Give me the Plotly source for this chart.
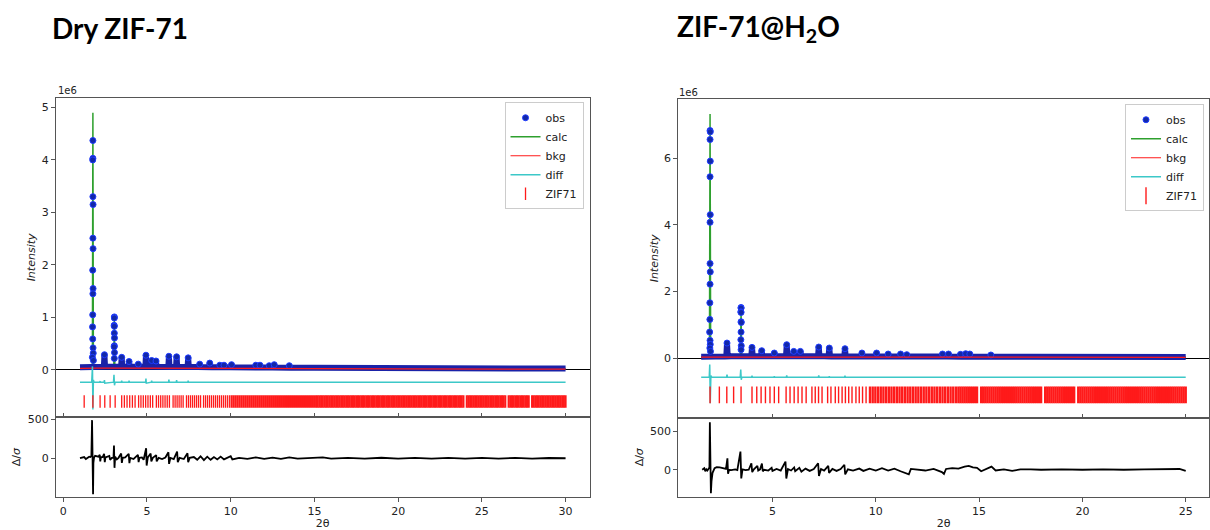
import numpy as np
import plotly.graph_objects as go

# ======================= Dry ZIF-71 (left) ; intensities in units of 1e6 =======================
L_BASE_X = [1.0, 1.5, 2.0, 3.0, 5.0, 7.5, 10.0, 12.5, 15.0, 20.0, 25.0, 30.0]
L_BASE_OBS = [0.05, 0.055, 0.06, 0.06, 0.06, 0.055, 0.05, 0.045, 0.04, 0.035, 0.03, 0.025]
L_BKG = [0.03, 0.035, 0.035, 0.035, 0.035, 0.03, 0.03, 0.025, 0.025, 0.02, 0.02, 0.015]
L_PEAK_X = [2.46, 3.49, 3.93, 4.48, 4.94, 5.28, 5.54, 6.31, 6.77, 7.46, 8.15, 8.75, 9.35, 9.60,
            10.05, 11.50, 11.75, 12.30, 12.60, 13.50]
L_PEAK_OBS = [0.29, 0.24, 0.16, 0.11, 0.28, 0.18, 0.17, 0.26, 0.25, 0.23, 0.11, 0.13, 0.09, 0.09,
              0.10, 0.09, 0.09, 0.08, 0.10, 0.08]
L_PEAK_CALC = [0.27, 0.22, 0.15, 0.10, 0.25, 0.17, 0.16, 0.24, 0.23, 0.21, 0.10, 0.12, 0.09, 0.08,
               0.09, 0.08, 0.08, 0.08, 0.09, 0.07]
L_BIG_X = [1.77, 3.05]
L_BIG_CALC = [4.90, 0.98]
L_DOT_X = [1.77, 1.77, 1.76, 1.77, 1.78, 1.77, 1.78, 1.76, 1.78, 1.77, 1.76, 1.75, 1.76, 1.78, 1.79, 1.74, 1.80,
           3.05, 3.05, 3.04, 3.05, 3.05, 3.06, 3.05, 3.04, 3.06, 3.05]
L_DOT_Y = [4.37, 4.03, 4.00, 3.30, 3.15, 2.51, 2.31, 1.90, 1.55, 1.45, 1.05, 0.82, 0.59, 0.42, 0.32, 0.24, 0.18,
           1.01, 0.99, 0.85, 0.83, 0.70, 0.61, 0.46, 0.44, 0.33, 0.22]
L_DIFF_OFFSET = -0.233
L_DIFF_X = [1.00, 1.70, 1.745, 1.77, 1.80, 1.84, 2.18, 2.20, 2.22, 2.44, 2.46, 2.48, 3.00, 3.03, 3.06, 3.10,
            3.47, 3.49, 3.51, 3.91, 3.93, 3.95, 4.92, 4.94, 4.96, 5.26, 5.28, 5.30, 6.29, 6.31, 6.33,
            6.75, 6.77, 6.79, 7.44, 7.46, 7.48, 30.0]
L_DIFF_Y = [0, 0, 0.30, -0.52, 0.04, 0, 0, 0.02, 0, 0, 0.04, -0.02, 0, 0.14, -0.06, 0,
            0, 0.03, 0, 0, 0.03, 0, 0, 0.07, -0.02, 0, 0.03, 0, 0, 0.05, 0,
            0, 0.04, 0, 0, 0.03, 0, 0]
L_TICK_Y = -0.60
# resolved reflection ticks
L_TICKS_A = [1.25, 1.77, 2.20, 2.48, 2.80, 3.10,
             3.49, 3.65, 3.81, 3.97, 4.13, 4.29,
             4.50, 4.64, 4.78, 4.92, 5.06, 5.20, 5.34,
             5.56, 5.69, 5.82, 5.95, 6.08, 6.21, 6.34,
             6.56, 6.68, 6.80, 6.92, 7.04, 7.16,
             7.36, 7.48, 7.60, 7.72, 7.84, 7.96, 8.08, 8.20,
             8.38, 8.50, 8.62, 8.74, 8.86, 8.98, 9.10, 9.22, 9.34, 9.46, 9.58, 9.70, 9.82, 9.94]
# crowded reflection ticks (merge into a band)
L_TICKS_B = [10.06, 10.18, 10.30, 10.42, 10.54, 10.66, 10.78, 10.90, 11.02, 11.14, 11.26, 11.38,
             11.50, 11.62, 11.74, 11.86, 11.98, 12.10, 12.22, 12.34, 12.46, 12.58, 12.70, 12.82,
             12.94, 13.06, 13.18, 13.30, 13.42, 13.54, 13.66, 13.78, 13.90, 14.02, 14.14, 14.26,
             14.38, 14.50, 14.62, 14.74, 14.86, 14.98,
             15.1, 15.2, 15.3, 15.4, 15.5, 15.6, 15.7, 15.8, 15.9, 16.0,
             16.1, 16.2, 16.3, 16.4, 16.5, 16.6, 16.7, 16.8, 16.9, 17.0,
             17.1, 17.2, 17.3, 17.4, 17.5, 17.6, 17.7, 17.8, 17.9, 18.0,
             18.1, 18.2, 18.3, 18.4, 18.5, 18.6, 18.7, 18.8, 18.9, 19.0,
             19.1, 19.2, 19.3, 19.4, 19.5, 19.6, 19.7, 19.8, 19.9, 20.0,
             20.1, 20.2, 20.3, 20.4, 20.5, 20.6, 20.7, 20.8, 20.9, 21.0,
             21.1, 21.2, 21.3, 21.4, 21.5, 21.6, 21.7, 21.8, 21.9, 22.0,
             22.1, 22.2, 22.3, 22.4, 22.5, 22.6, 22.7, 22.8, 22.9, 23.0,
             23.1, 23.2, 23.3, 23.4, 23.5, 23.6, 23.7, 23.8, 23.9,
             24.1, 24.2, 24.3, 24.4, 24.5, 24.6, 24.7, 24.8, 24.9, 25.0,
             25.1, 25.2, 25.3, 25.4, 25.5, 25.6, 25.7, 25.8, 25.9, 26.0,
             26.1, 26.2, 26.3, 26.4, 26.6, 26.7, 26.8, 26.9, 27.0,
             27.1, 27.2, 27.3, 27.4, 27.5, 27.6, 27.7, 27.8, 28.0,
             28.1, 28.2, 28.3, 28.4, 28.5, 28.6, 28.7, 28.8, 28.9, 29.0,
             29.1, 29.2, 29.3, 29.4, 29.5, 29.6, 29.7, 29.8, 29.9, 30.0]
L_DS_X = [1.00, 1.10, 1.25, 1.35, 1.45, 1.55, 1.62, 1.68, 1.72, 1.74, 1.76, 1.78, 1.80, 1.84, 1.90, 2.00,
          2.10, 2.18, 2.21, 2.25, 2.35, 2.44, 2.48, 2.52, 2.65, 2.75, 2.80, 2.90, 3.00, 3.03, 3.06, 3.10,
          3.20, 3.30, 3.46, 3.50, 3.55, 3.70, 3.91, 3.95, 4.00, 4.20, 4.46, 4.50, 4.55, 4.70, 4.80, 4.95,
          4.98, 5.05, 5.22, 5.26, 5.35, 5.55, 5.58, 5.70, 5.90, 6.10, 6.28, 6.32, 6.40, 6.60, 6.80, 6.84,
          6.95, 7.20, 7.42, 7.46, 7.55, 7.80, 8.00, 8.20, 8.40, 8.60, 8.80, 9.00, 9.20, 9.40, 9.60, 9.80,
          10.00, 10.10, 10.50, 11.00, 11.50, 12.00, 12.50, 13.00, 13.50, 14.00, 15.00, 15.50, 16.00,
          17.00, 18.00, 19.00, 20.00, 21.00, 22.00, 23.00, 24.00, 25.00, 26.00, 27.00, 28.00, 29.00, 30.00]
L_DS_Y = [0, 5, 15, -10, 10, 20, 15, 30, 487, -50, 190, -462, -60, 10, 30, 25,
          20, 45, -40, 15, 15, 55, -50, 10, 20, 30, -20, 5, 5, 161, -123, 20,
          -15, 5, 60, -60, 5, 10, 55, -63, 5, -10, 42, -50, 5, 10, -20, 127,
          -93, 10, 60, -40, 5, 40, -40, 5, -10, 10, 76, -72, 5, -10, 85, -50,
          5, -10, 63, -50, 5, 15, -20, 25, -25, 20, -20, 15, -15, 20, -15, 10,
          25, -15, 5, -8, 10, -8, 8, -8, 10, -6, 5, 10, -6,
          5, -5, 6, -5, 5, -5, 5, -5, 4, -4, 4, -4, 3, 0]

# ======================= ZIF-71@H2O (right) ; intensities in units of 1e6 =======================
R_BASE_X = [1.55, 2.0, 3.0, 5.0, 7.5, 10.0, 12.5, 15.0, 17.5, 20.0, 25.0]
R_BASE_OBS = [0.04, 0.045, 0.05, 0.05, 0.05, 0.045, 0.045, 0.04, 0.035, 0.03, 0.03]
R_BKG = [0.025, 0.03, 0.03, 0.03, 0.03, 0.03, 0.03, 0.025, 0.02, 0.02, 0.02]
R_PEAK_X = [2.80, 4.01, 4.48, 5.09, 5.69, 6.03, 6.35, 7.24, 7.75, 8.51, 9.33, 10.04, 10.60, 11.20,
            11.50, 13.23, 13.52, 14.10, 14.35, 14.55, 15.57]
R_PEAK_OBS = [0.45, 0.32, 0.22, 0.15, 0.40, 0.20, 0.20, 0.33, 0.30, 0.28, 0.15, 0.15, 0.12, 0.12,
              0.10, 0.12, 0.12, 0.11, 0.13, 0.12, 0.09]
R_PEAK_CALC = [0.42, 0.30, 0.20, 0.14, 0.37, 0.19, 0.19, 0.30, 0.28, 0.26, 0.14, 0.14, 0.11, 0.11,
               0.09, 0.11, 0.11, 0.10, 0.11, 0.11, 0.08]
R_BIG_X = [1.98, 3.48]
R_BIG_CALC = [7.34, 1.45]
R_DOT_X = [1.98, 1.99, 1.98, 1.99, 1.98, 1.99, 1.98, 1.98, 1.99, 1.98, 1.97, 1.97, 1.96, 1.98, 1.99, 1.97, 2.00,
           3.48, 3.48, 3.47, 3.48, 3.48, 3.49, 3.48, 3.47, 3.49, 3.48]
R_DOT_Y = [6.84, 6.80, 6.57, 5.92, 5.45, 4.31, 4.08, 2.84, 2.59, 2.22, 1.66, 1.16, 0.78, 0.53, 0.41, 0.30, 0.20,
           1.52, 1.50, 1.39, 1.37, 1.09, 1.07, 0.78, 0.55, 0.37, 0.25]
R_DIFF_OFFSET = -0.576
R_DIFF_X = [1.55, 1.94, 1.965, 1.99, 2.02, 2.06, 2.78, 2.80, 2.82, 3.44, 3.465, 3.49, 3.52, 3.99, 4.01, 4.03,
            5.07, 5.09, 5.11, 5.67, 5.69, 5.71, 7.22, 7.24, 7.26, 7.73, 7.75, 7.77, 8.49, 8.51, 8.53, 25.0]
R_DIFF_Y = [0, 0, 0.38, -0.78, 0.05, 0, 0, 0.08, 0, 0, 0.23, -0.08, 0, 0, 0.04, 0,
            0, 0.03, 0, 0, 0.05, 0, 0, 0.05, 0, 0, 0.03, 0, 0, 0.04, 0, 0]
R_TICK_Y = -1.11
R_TICKS_A = [1.98, 2.43, 2.79, 3.12, 3.48,
             4.01, 4.24, 4.45, 4.66, 4.88, 5.09, 5.30,
             5.66, 5.85, 6.05, 6.24, 6.43, 6.63,
             6.91, 7.07, 7.23, 7.40,
             7.67, 7.83,
             8.04, 8.20, 8.37, 8.53, 8.69, 8.85,
             9.04, 9.20, 9.36, 9.53]
R_TICKS_B = [9.72, 9.85, 9.98, 10.11, 10.24, 10.37, 10.50, 10.63, 10.76, 10.89, 11.02, 11.15,
             11.28, 11.41, 11.54, 11.67, 11.80, 11.93, 12.06, 12.19, 12.32, 12.45, 12.58, 12.71,
             12.84, 12.97, 13.10, 13.23, 13.36, 13.49, 13.62, 13.75, 13.88,
             14.0, 14.1, 14.2, 14.3, 14.4, 14.5, 14.6, 14.7, 14.8, 14.9,
             15.1, 15.2, 15.3, 15.4, 15.5, 15.6, 15.7, 15.8, 15.9, 16.0,
             16.1, 16.2, 16.3, 16.4, 16.5, 16.6, 16.7, 16.8, 16.9, 17.0,
             17.1, 17.2, 17.3, 17.4, 17.5, 17.6, 17.7, 17.8, 17.9, 18.0,
             18.2, 18.3, 18.4, 18.5, 18.6, 18.7, 18.8, 18.9, 19.0,
             19.1, 19.2, 19.3, 19.4, 19.5, 19.6, 19.8, 19.9, 20.0,
             20.1, 20.2, 20.3, 20.4, 20.5, 20.6, 20.7, 20.8, 20.9, 21.0,
             21.1, 21.2, 21.3, 21.4, 21.5, 21.6, 21.7, 21.8, 21.9, 22.0,
             22.1, 22.2, 22.3, 22.4, 22.5, 22.6, 22.7, 22.8, 22.9, 23.0,
             23.1, 23.2, 23.3, 23.4, 23.5, 23.6, 23.7, 23.8, 23.9, 24.0,
             24.1, 24.2, 24.3, 24.4, 24.5, 24.6, 24.7, 24.8, 24.9, 25.0]
R_DS_X = [1.60, 1.65, 1.70, 1.75, 1.80, 1.85, 1.90, 1.95, 1.97, 1.99, 2.00, 2.02, 2.05, 2.10, 2.20, 2.30,
          2.45, 2.60, 2.75, 2.82, 2.85, 2.90, 3.00, 3.20, 3.30, 3.45, 3.49, 3.55, 3.70, 3.85, 3.98, 4.02,
          4.10, 4.27, 4.31, 4.40, 4.49, 4.53, 4.60, 4.80, 4.96, 5.00, 5.20, 5.40, 5.63, 5.67, 5.75, 5.90,
          6.05, 6.10, 6.30, 6.40, 6.60, 6.80, 7.00, 7.21, 7.25, 7.35, 7.50, 7.70, 7.74, 7.90, 8.10, 8.30,
          8.48, 8.52, 8.65, 8.90, 9.20, 9.40, 9.70, 10.00, 10.30, 10.60, 10.90, 11.20, 11.60, 11.70,
          12.00, 12.40, 12.80, 13.20, 13.30, 13.40, 13.70, 14.00, 14.30, 14.50, 14.70, 14.90, 15.10,
          15.40, 15.60, 15.80, 16.20, 16.60, 17.00, 17.50, 18.00, 19.00, 20.00, 21.00, 22.00, 23.00,
          24.00, 24.70, 25.00]
R_DS_Y = [0, 10, 20, -20, 5, -10, 10, 30, 619, -50, 330, -305, -150, -40, 20, 34,
          30, 20, 10, 148, -51, 0, -5, 5, -5, 237, -114, 5, -5, 0, 85, -30,
          5, 50, -10, 5, 80, -20, 0, -10, 25, -15, 10, -10, 106, -114, 10, -10,
          30, -20, 25, -25, 15, -15, 10, 85, -80, 10, -10, 50, -40, 10, -15, 10,
          65, -60, 5, -10, 15, -15, 15, -10, 20, -10, 15, -20, -60, 10,
          5, -10, 10, -30, -55, 10, 20, 15, 40, 50, 30, 25, -20,
          10, 40, -10, 5, -15, 5, 5, 0, 5, 0, 5, 0, 5,
          5, 10, -15]

# ======================= styling =======================
BLUE_BAND = "#1a22a8"
OBS_FILL = "#1228a8"
OBS_EDGE = "#1f3cff"
GREEN = "#2ea02e"
RED = "#ff1a1a"
CYAN = "#3cc8c8"
FRAME = "#555555"
TXT = "#222222"
FONT = "DejaVu Sans"
W, H = 1210, 530


def profile(bx, by, px, py, hw):
    pts = list(zip(bx, by))
    for x, y in zip(px, py):
        b = float(np.interp(x, bx, by))
        pts += [(x - hw, b), (x, y), (x + hw, b)]
    pts.sort(key=lambda p: p[0])
    return [p[0] for p in pts], [p[1] for p in pts]


fig = go.Figure()


def add_panel(xa, ya, xd, yd, legend, base_x, base_obs, bkg, pk_x, pk_obs, pk_calc, big_x, big_calc,
              dot_x, dot_y, diff_x, diff_y, diff_off, ticks_a, ticks_b, tick_y, tick_size, wa, wb,
              ds_x, ds_y):
    ox, oy = profile(base_x, base_obs, pk_x, pk_obs, 0.035)
    cx, cy = profile(base_x, base_obs, list(pk_x) + list(big_x), list(pk_calc) + list(big_calc), 0.03)
    # draw order: calc underneath the observed band; legend order fixed by legendrank
    fig.add_trace(go.Scatter(x=cx, y=cy, mode="lines", name="calc", line=dict(color=GREEN, width=1.5),
                             legend=legend, legendrank=2, xaxis=xa, yaxis=ya))
    fig.add_trace(go.Scatter(x=ox, y=oy, mode="lines", line=dict(color=BLUE_BAND, width=6),
                             showlegend=False, hoverinfo="skip", xaxis=xa, yaxis=ya))
    fig.add_trace(go.Scatter(x=list(pk_x) + list(dot_x), y=list(pk_obs) + list(dot_y), mode="markers",
                             name="obs",
                             marker=dict(size=6, color=OBS_FILL, line=dict(color=OBS_EDGE, width=1)),
                             legend=legend, legendrank=1, xaxis=xa, yaxis=ya))
    fig.add_trace(go.Scatter(x=base_x, y=bkg, mode="lines", name="bkg", line=dict(color=RED, width=1.2),
                             legend=legend, legendrank=3, xaxis=xa, yaxis=ya))
    fig.add_trace(go.Scatter(x=diff_x, y=[diff_off + v for v in diff_y], mode="lines", name="diff",
                             line=dict(color=CYAN, width=1.5), legend=legend, legendrank=4,
                             xaxis=xa, yaxis=ya))
    fig.add_trace(go.Scatter(x=ticks_a, y=[tick_y] * len(ticks_a), mode="markers", name="ZIF71",
                             marker=dict(symbol="line-ns", size=tick_size, line=dict(color=RED, width=wa)),
                             legend=legend, legendrank=5, xaxis=xa, yaxis=ya))
    fig.add_trace(go.Scatter(x=ticks_b, y=[tick_y] * len(ticks_b), mode="markers", name="ZIF71",
                             marker=dict(symbol="line-ns", size=tick_size, line=dict(color=RED, width=wb)),
                             showlegend=False, hoverinfo="skip", xaxis=xa, yaxis=ya))
    fig.add_trace(go.Scatter(x=ds_x, y=ds_y, mode="lines", line=dict(color="black", width=1.8),
                             showlegend=False, hoverinfo="skip", xaxis=xd, yaxis=yd))


add_panel("x", "y", "x2", "y2", "legend", L_BASE_X, L_BASE_OBS, L_BKG, L_PEAK_X, L_PEAK_OBS, L_PEAK_CALC,
          L_BIG_X, L_BIG_CALC, L_DOT_X, L_DOT_Y, L_DIFF_X, L_DIFF_Y, L_DIFF_OFFSET, L_TICKS_A, L_TICKS_B,
          L_TICK_Y, 9, 1.3, 2.1, L_DS_X, L_DS_Y)
add_panel("x3", "y3", "x4", "y4", "legend2", R_BASE_X, R_BASE_OBS, R_BKG, R_PEAK_X, R_PEAK_OBS, R_PEAK_CALC,
          R_BIG_X, R_BIG_CALC, R_DOT_X, R_DOT_Y, R_DIFF_X, R_DIFF_Y, R_DIFF_OFFSET, R_TICKS_A, R_TICKS_B,
          R_TICK_Y, 12, 1.4, 2.4, R_DS_X, R_DS_Y)

tickfont = dict(family=FONT, size=11, color=TXT)
common = dict(showline=True, linecolor=FRAME, linewidth=1, mirror=True, showgrid=False, zeroline=False,
              ticks="outside", ticklen=4, tickwidth=1, tickcolor=FRAME, tickfont=tickfont)


def px_x(p):
    return p / W


def px_y(p):
    return 1 - p / H


L_XDOM = [px_x(56), px_x(590)]
R_XDOM = [px_x(678.7), 1.0]
L_XR = [-0.436, 31.43]
R_XR = [0.435, 26.127]
title_font = dict(family=FONT, size=11, color=TXT)

layout_axes = dict(
    xaxis=dict(common, domain=L_XDOM, range=L_XR, anchor="y", tick0=0, dtick=5, ticks="inside",
               showticklabels=False),
    yaxis=dict(common, domain=[px_y(416), px_y(94.7)], range=[-0.894, 5.18], anchor="x",
               tickvals=[0, 1, 2, 3, 4, 5], zeroline=True, zerolinecolor="black", zerolinewidth=1,
               title=dict(text="<i>Intensity</i>", font=title_font, standoff=3)),
    xaxis2=dict(common, domain=L_XDOM, range=L_XR, anchor="y2", tick0=0, dtick=5,
                title=dict(text="2θ", font=title_font, standoff=3)),
    yaxis2=dict(common, domain=[px_y(497), px_y(416)], range=[-499, 529], anchor="x2",
                tickvals=[0, 500],
                title=dict(text="Δ/<i>σ</i>", font=title_font, standoff=4)),
    xaxis3=dict(common, domain=R_XDOM, range=R_XR, anchor="y3", tick0=0, dtick=5, ticks="inside",
                showticklabels=False),
    yaxis3=dict(common, domain=[px_y(416.7), px_y(96)], range=[-1.79, 7.78], anchor="x3",
                tickvals=[0, 2, 4, 6], zeroline=True, zerolinecolor="black", zerolinewidth=1,
                title=dict(text="<i>Intensity</i>", font=title_font, standoff=3)),
    xaxis4=dict(common, domain=R_XDOM, range=R_XR, anchor="y4", tick0=0, dtick=5,
                title=dict(text="2θ", font=title_font, standoff=3)),
    yaxis4=dict(common, domain=[px_y(496.7), px_y(416.7)], range=[-355, 681], anchor="x4",
                tickvals=[0, 500],
                title=dict(text="Δ/<i>σ</i>", font=title_font, standoff=4)),
)

legend_style = dict(bgcolor="rgba(255,255,255,0.85)", bordercolor="#cccccc", borderwidth=1,
                    font=dict(family=FONT, size=11, color=TXT), tracegroupgap=0, itemwidth=30,
                    traceorder="normal")

fig.update_layout(
    width=W, height=H, autosize=False,
    margin=dict(l=0, r=0, t=0, b=0, pad=0),
    paper_bgcolor="white", plot_bgcolor="white",
    legend=dict(legend_style, x=px_x(584), xanchor="right", y=px_y(99), yanchor="top"),
    legend2=dict(legend_style, x=px_x(1205), xanchor="right", y=px_y(101), yanchor="top"),
    **layout_axes,
    annotations=[
        dict(text="<b>Dry ZIF-71</b>", x=px_x(50), y=px_y(24), xref="paper", yref="paper",
             xanchor="left", yanchor="middle", showarrow=False,
             font=dict(family="Lato", size=28, color="black")),
        dict(text="<b>ZIF-71@H<sub>2</sub>O</b>", x=px_x(676), y=px_y(24), xref="paper", yref="paper",
             xanchor="left", yanchor="middle", showarrow=False,
             font=dict(family="Lato", size=28, color="black")),
        dict(text="1e6", x=px_x(56), y=px_y(87), xref="paper", yref="paper", xanchor="left",
             yanchor="middle", showarrow=False, font=dict(family=FONT, size=10, color=TXT)),
        dict(text="1e6", x=px_x(678), y=px_y(89), xref="paper", yref="paper", xanchor="left",
             yanchor="middle", showarrow=False, font=dict(family=FONT, size=10, color=TXT)),
    ],
)

fig.write_html("out.html")
